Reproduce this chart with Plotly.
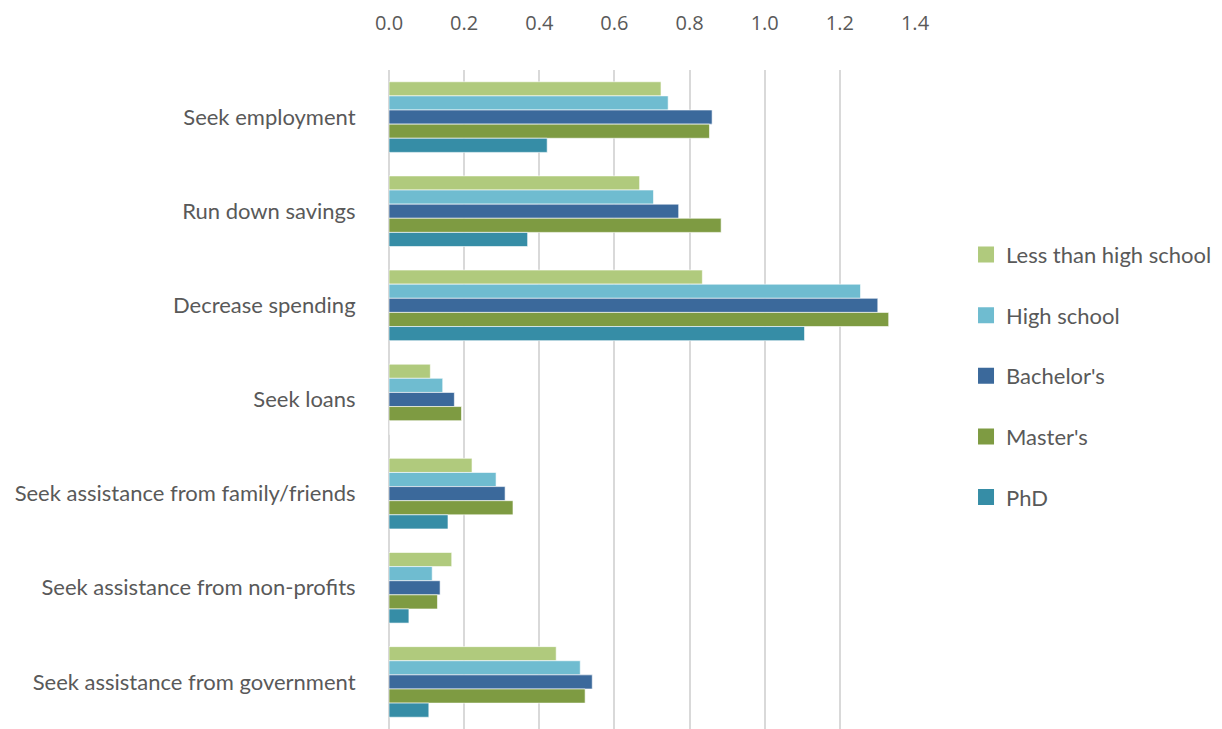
import plotly.graph_objects as go

categories = [
    "Seek employment",
    "Run down savings",
    "Decrease spending",
    "Seek loans",
    "Seek assistance from family/friends",
    "Seek assistance from non-profits",
    "Seek assistance from government",
]

less_than_hs = [0.724, 0.667, 0.834, 0.110, 0.221, 0.167, 0.445]
high_school = [0.743, 0.704, 1.255, 0.143, 0.285, 0.115, 0.509]
bachelors = [0.860, 0.771, 1.301, 0.174, 0.309, 0.136, 0.541]
masters = [0.853, 0.884, 1.330, 0.193, 0.330, 0.129, 0.522]
phd = [0.421, 0.369, 1.106, 0.0, 0.157, 0.053, 0.106]

series = [
    ("Less than high school", less_than_hs, "#B0CA7D"),
    ("High school", high_school, "#6FBCD0"),
    ("Bachelor's", bachelors, "#3B699B"),
    ("Master's", masters, "#7E9B42"),
    ("PhD", phd, "#368DA6"),
]

fig = go.Figure()
for name, vals, color in series:
    fig.add_trace(go.Bar(
        y=categories, x=vals, name=name, orientation="h",
        marker=dict(color=color, line=dict(color="rgba(255,255,255,0.6)", width=1)),
        legendgroup=name, showlegend=False,
    ))
# legend-only entries with bigger square swatches
for name, vals, color in series:
    fig.add_trace(go.Scatter(
        x=[None], y=[None], mode="markers", name=name, legendgroup=name,
        marker=dict(symbol="square", size=20, color=color),
    ))

font_family = "Lato, Open Sans, sans-serif"
fig.update_layout(
    width=1222, height=729,
    paper_bgcolor="white", plot_bgcolor="white",
    barmode="group", bargap=0.25, bargroupgap=0,
    margin=dict(l=381, r=315, t=62, b=8),
    font=dict(family=font_family, size=22, color="#595959"),
    legend=dict(
        x=1.097, y=0.536, xanchor="left", yanchor="middle",
        font=dict(size=22, color="#595959"),
        tracegroupgap=29, traceorder="grouped",
    ),
    xaxis=dict(
        side="top", range=[0, 1.4], dtick=0.2, tickformat=".1f",
        showgrid=True, gridcolor="#D9D9D9", gridwidth=2,
        zeroline=True, zerolinecolor="#D9D9D9", zerolinewidth=2,
        ticks="outside", ticklen=31, tickcolor="rgba(0,0,0,0)",
        tickfont=dict(family="Open Sans, sans-serif", size=20, color="#595959"),
        showline=False, fixedrange=True, automargin=False,
    ),
    yaxis=dict(
        autorange="reversed", showgrid=False, showline=False,
        ticks="outside", ticklen=28, tickcolor="rgba(0,0,0,0)",
        tickfont=dict(size=22, color="#595959"), automargin=False,
    ),
)

fig.write_html("out.html")
